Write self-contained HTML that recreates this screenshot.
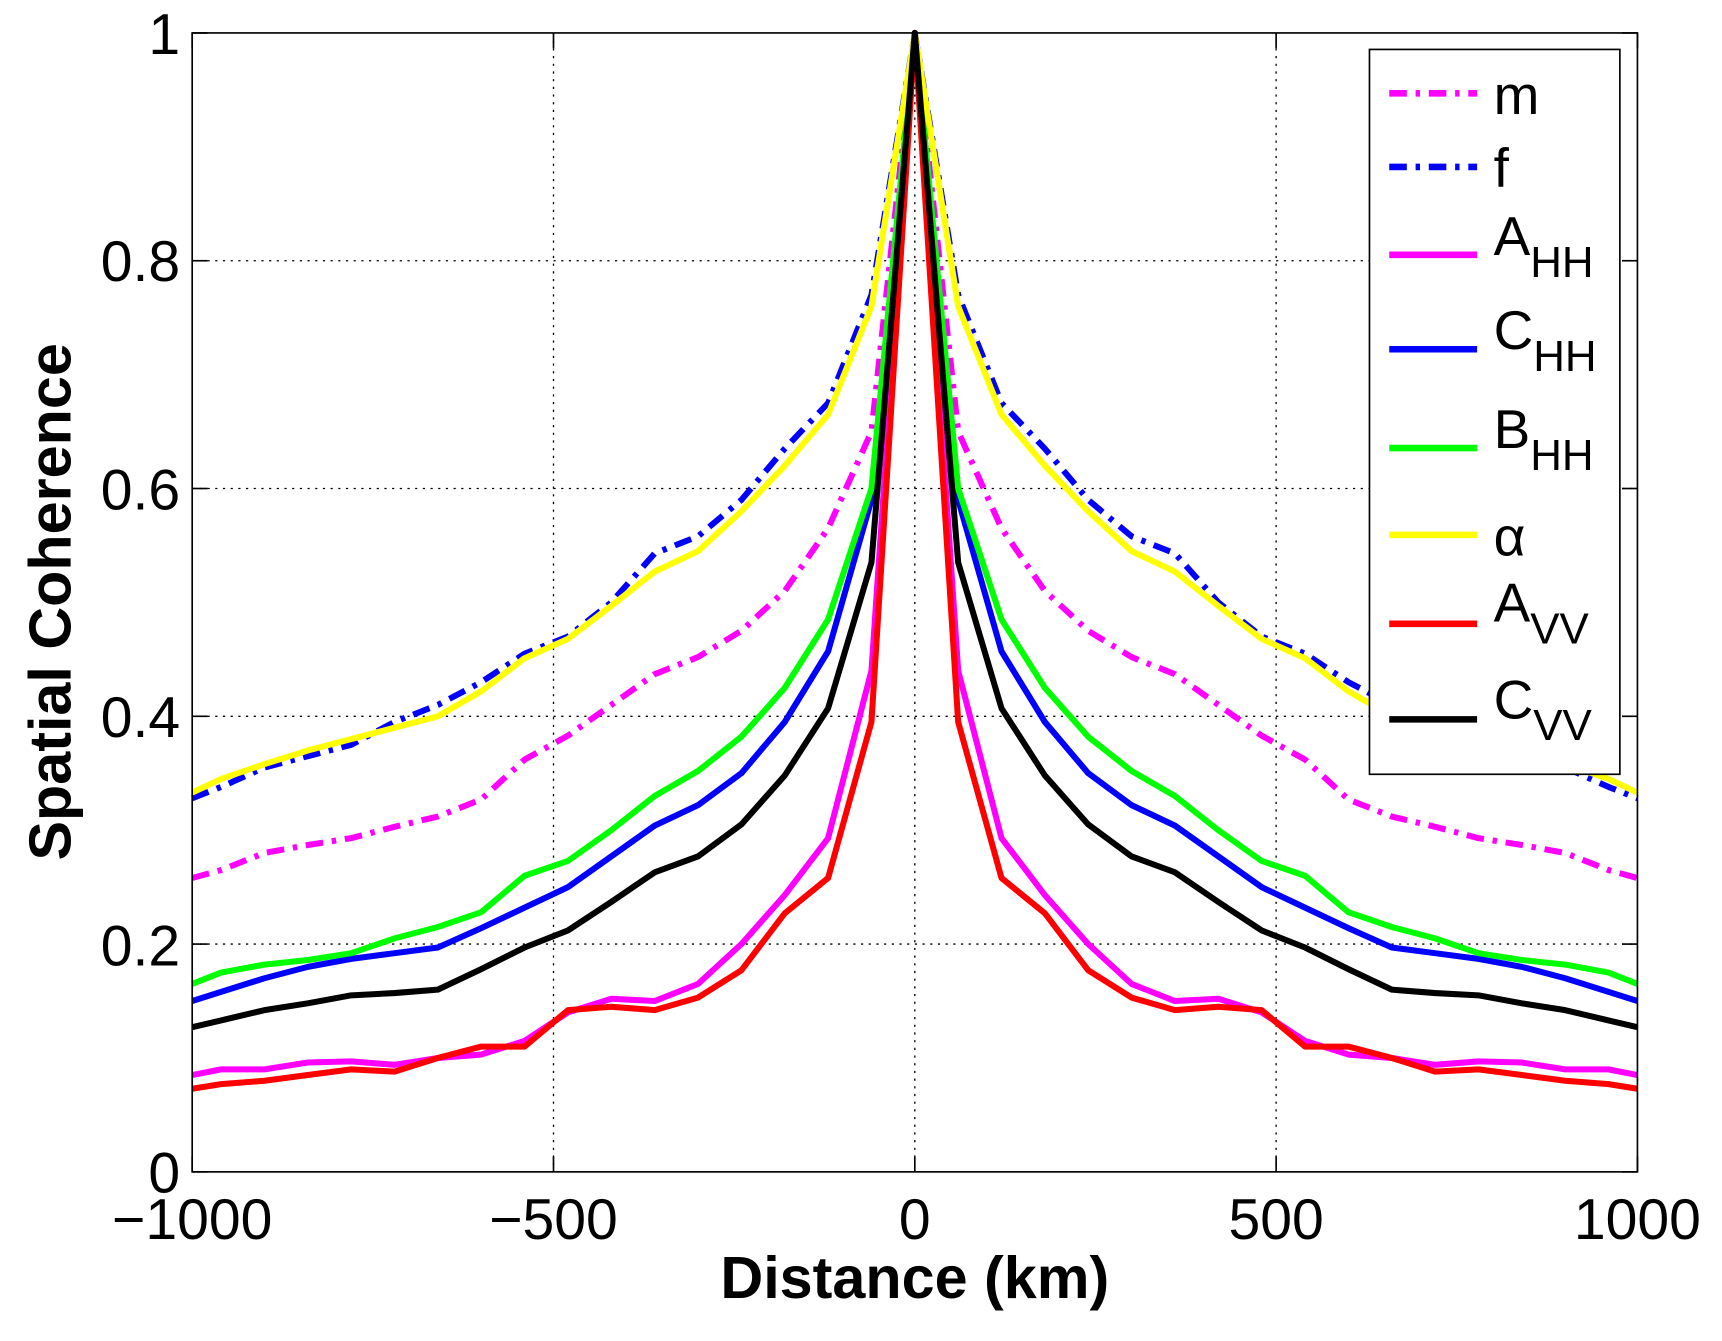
<!DOCTYPE html>
<html><head><meta charset="utf-8"><style>
html,body{margin:0;padding:0;background:#fff;}
svg{display:block;font-family:"Liberation Sans",sans-serif;}
</style></head><body>
<svg id="s" width="1722" height="1341" viewBox="0 0 1568 1221" preserveAspectRatio="none" xmlns="http://www.w3.org/2000/svg">
<rect width="1568" height="1221" fill="#fff"/>
<g id="grid" stroke="#000" stroke-width="1.2" stroke-dasharray="2,5"></g>
<g id="series" fill="none" stroke-linejoin="round"></g>
<rect x="175" y="30" width="1316" height="1037" fill="none" stroke="#000" stroke-width="1.5"/>
<g id="ticks" stroke="#000" stroke-width="1.5"></g>
<g font-size="52" fill="#000">
<text x="175" y="1128" text-anchor="middle">−1000</text>
<text x="504" y="1128" text-anchor="middle">−500</text>
<text x="833" y="1128" text-anchor="middle">0</text>
<text x="1162" y="1128" text-anchor="middle">500</text>
<text x="1491" y="1128" text-anchor="middle">1000</text>
<text x="164" y="1086" text-anchor="end">0</text>
<text x="164" y="879" text-anchor="end">0.2</text>
<text x="164" y="671" text-anchor="end">0.4</text>
<text x="164" y="464" text-anchor="end">0.6</text>
<text x="164" y="256" text-anchor="end">0.8</text>
<text x="164" y="49" text-anchor="end">1</text>
</g>
<text x="833" y="1182" font-size="54" font-weight="bold" text-anchor="middle">Distance (km)</text>
<text transform="translate(64,548) rotate(-90)" font-size="54" font-weight="bold" text-anchor="middle">Spatial Coherence</text>
<rect x="1247" y="45" width="228" height="660" fill="#fff" stroke="#000" stroke-width="1.5"/>
<g id="leg" stroke-width="6"></g>
<g font-size="50" fill="#000">
<text x="1360" y="104">m</text>
<text x="1360" y="170">f</text>
<text x="1360" y="232">A<tspan font-size="40" dy="20">HH</tspan></text>
<text x="1360" y="318">C<tspan font-size="40" dy="20">HH</tspan></text>
<text x="1360" y="408">B<tspan font-size="40" dy="20">HH</tspan></text>
<text x="1360" y="506">α</text>
<text x="1360" y="566">A<tspan font-size="40" dy="20">VV</tspan></text>
<text x="1360" y="654">C<tspan font-size="40" dy="20">VV</tspan></text>
</g>
</svg>
<script>
var NS="http://www.w3.org/2000/svg";
function X(d){return 833+d*0.658;}
function Y(v){return 1067-v*1037;}
function el(p,t,a){var e=document.createElementNS(NS,t);for(var k in a)e.setAttribute(k,a[k]);document.getElementById(p).appendChild(e);}
[-500,0,500].forEach(function(d){el("grid","line",{x1:X(d),x2:X(d),y1:30,y2:1067});});
[0.2,0.4,0.6,0.8].forEach(function(v){el("grid","line",{x1:175,x2:1491,y1:Y(v),y2:Y(v)});});
[-1000,-500,0,500,1000].forEach(function(d){el("ticks","line",{x1:X(d),x2:X(d),y1:1067,y2:1053});el("ticks","line",{x1:X(d),x2:X(d),y1:30,y2:44});});
[0,0.2,0.4,0.6,0.8,1].forEach(function(v){el("ticks","line",{x1:175,x2:189,y1:Y(v),y2:Y(v)});el("ticks","line",{x1:1491,x2:1477,y1:Y(v),y2:Y(v)});});
var xs=[60,120,180,240,300,360,420,480,540,600,660,720,780,840,900,960,1000];
var S=[
["#ff00ff","16,8,4,8",[0.65,0.565,0.51,0.475,0.452,0.437,0.41,0.383,0.362,0.327,0.312,0.303,0.293,0.287,0.28,0.265,0.258]],
["#0000ff","16,8,4,8",[0.77,0.675,0.635,0.59,0.558,0.543,0.50,0.47,0.455,0.43,0.41,0.395,0.375,0.365,0.355,0.338,0.328]],
["#ff00ff","",[0.44,0.293,0.243,0.2,0.165,0.15,0.152,0.14,0.115,0.103,0.1,0.094,0.097,0.096,0.09,0.09,0.085]],
["#0000ff","",[0.59,0.457,0.395,0.35,0.322,0.304,0.277,0.25,0.232,0.214,0.197,0.192,0.187,0.18,0.17,0.158,0.15]],
["#00ff00","",[0.6,0.485,0.425,0.382,0.352,0.33,0.30,0.273,0.26,0.228,0.215,0.205,0.192,0.186,0.182,0.175,0.165]],
["#ffff00","",[0.76,0.665,0.62,0.58,0.545,0.527,0.497,0.468,0.451,0.422,0.40,0.39,0.38,0.37,0.358,0.345,0.333]],
["#ff0000","",[0.395,0.258,0.227,0.177,0.153,0.142,0.145,0.142,0.11,0.11,0.1,0.088,0.09,0.085,0.08,0.077,0.073]],
["#000000","",[0.535,0.407,0.348,0.305,0.277,0.263,0.237,0.212,0.197,0.178,0.16,0.157,0.155,0.148,0.142,0.133,0.127]]
];
var ly=[85,152,232,318,408,487,568,655];
S.forEach(function(s,i){
  var pts=[];
  for(var j=xs.length-1;j>=0;j--)pts.push(X(-xs[j])+","+Y(s[2][j]));
  pts.push(X(0)+","+Y(1));
  for(var j=0;j<xs.length;j++)pts.push(X(xs[j])+","+Y(s[2][j]));
  var a={points:pts.join(" "),stroke:s[0],"stroke-width":5.5};
  if(s[1])a["stroke-dasharray"]=s[1];
  el("series","polyline",a);
  var b={x1:1265,x2:1345,y1:ly[i],y2:ly[i],stroke:s[0]};
  if(s[1])b["stroke-dasharray"]=s[1];
  el("leg","line",b);
});
</script>
</body></html>
